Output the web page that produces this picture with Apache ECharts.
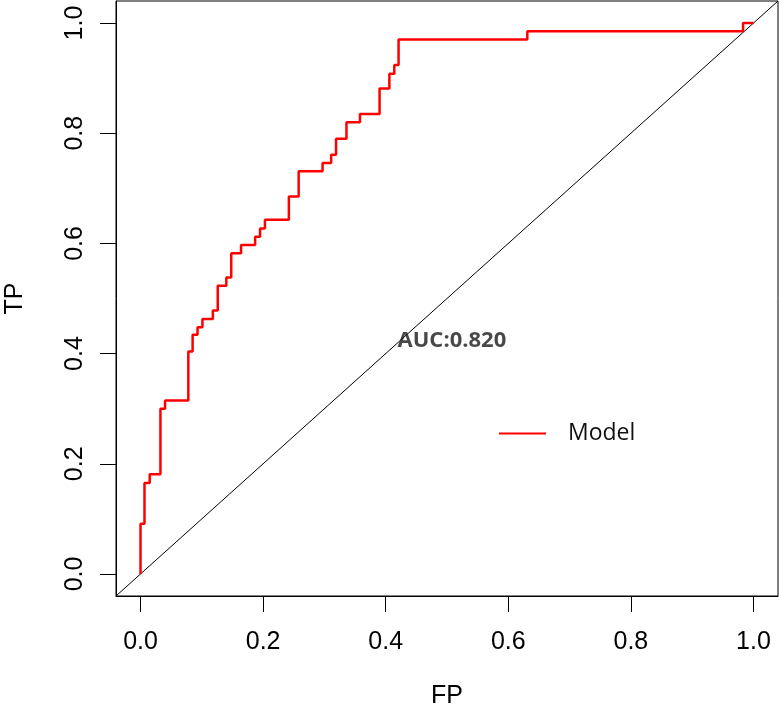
<!DOCTYPE html>
<html>
<head>
<meta charset="utf-8">
<title>ROC</title>
<script src="https://cdn.jsdelivr.net/npm/echarts@6/dist/echarts.min.js"></script>
<style>
  html, body { margin: 0; padding: 0; background: #fff; }
  #roc { width: 779px; height: 705px; }
</style>
</head>
<body>
<div id="roc"></div>
<script>
// ROC 曲线 阶梯点: 在 fp 处竖直上升到 tp
const fpSteps = [0, 0.0065, 0.015, 0.0325, 0.040, 0.078, 0.085, 0.093, 0.101, 0.118,
  0.126, 0.140, 0.148, 0.164, 0.187, 0.195, 0.203, 0.242, 0.258, 0.297,
  0.311, 0.319, 0.336, 0.358, 0.390, 0.406, 0.414, 0.421, 0.631, 0.983]
const tpSteps = [0.091, 0.165, 0.181, 0.300, 0.315, 0.404, 0.434, 0.448, 0.463, 0.478,
  0.523, 0.538, 0.582, 0.597, 0.612, 0.627, 0.643, 0.685, 0.731, 0.746,
  0.761, 0.790, 0.820, 0.835, 0.881, 0.908, 0.924, 0.970, 0.985, 1.0]
// 刻度
const tickValues = [0, 0.2, 0.4, 0.6, 0.8, 1.0]
const aucText = "AUC:0.820"
const seriesName = "Model"

// 拼出阶梯折线的拐点
function buildSteps() {
  const pts = [[0, 0]]
  let lastTp = 0
  fpSteps.forEach((fp, i) => {
    pts.push([fp, lastTp])
    pts.push([fp, tpSteps[i]])
    lastTp = tpSteps[i]
  })
  pts.push([1, lastTp])
  return pts
}

const chart = echarts.init(document.getElementById("roc"))
const font = "Liberation Sans, Arial, sans-serif"

// R 默认 坐标轴两端各扩 4%
const axisCommon = {
  type: "value",
  min: -0.04,
  max: 1.04,
  splitLine: { show: false },
  axisLine: { show: true, onZero: false, lineStyle: { color: "#000", width: 1 } },
  axisTick: {
    show: true,
    length: 16,
    customValues: tickValues,
    lineStyle: { color: "#000", width: 1 },
  },
  axisLabel: {
    customValues: tickValues,
    color: "#000",
    fontSize: 25,
    fontFamily: font,
    formatter: (v) => v.toFixed(1),
  },
  nameLocation: "middle",
  nameTextStyle: { color: "#000", fontSize: 25, fontFamily: font },
}

const option = {
  animation: false,
  backgroundColor: "#fff",
  grid: {
    left: 116,
    top: 1,
    width: 662,
    height: 595,
    outerBoundsMode: "none",
    containLabel: false,
    show: true,
    borderColor: "#000",
    borderWidth: 1,
    backgroundColor: "transparent",
  },
  legend: {
    data: [seriesName],
    left: 499,
    top: 422,
    padding: 0,
    icon: "rect",
    itemWidth: 47,
    itemHeight: 2,
    textStyle: { color: "#111", fontSize: 23, fontFamily: "Open Sans, sans-serif", padding: [0, 0, 0, 17] },
  },
  xAxis: Object.assign({}, axisCommon, {
    name: "FP",
    nameGap: 88,
    axisLabel: Object.assign({}, axisCommon.axisLabel, { margin: 34 }),
  }),
  yAxis: Object.assign({}, axisCommon, {
    name: "TP",
    nameGap: 88,
    axisLabel: Object.assign({}, axisCommon.axisLabel, { margin: 28, rotate: 90 }),
  }),
  series: [
    {
      name: "diag",
      type: "line",
      data: [[-0.04, -0.04], [1.04, 1.04]],
      symbol: "none",
      lineStyle: { color: "#000", width: 1 },
      silent: true,
      z: 1,
    },
    {
      name: seriesName,
      type: "line",
      data: buildSteps(),
      symbol: "none",
      lineStyle: { color: "#ff0000", width: 2.5 },
      itemStyle: { color: "#ff0000" },
      z: 3,
    },
    {
      // AUC 文字
      name: "auc",
      type: "scatter",
      data: [[0.508, 0.423]],
      symbolSize: 1,
      itemStyle: { color: "rgba(0,0,0,0)" },
      label: {
        show: true,
        position: "inside",
        formatter: aucText,
        color: "#1a1a1a",
        fontSize: 22,
        fontWeight: "bold",
        fontFamily: "Open Sans, sans-serif",
      },
      silent: true,
      z: 4,
    },
  ],
}
chart.setOption(option)
</script>
</body>
</html>
